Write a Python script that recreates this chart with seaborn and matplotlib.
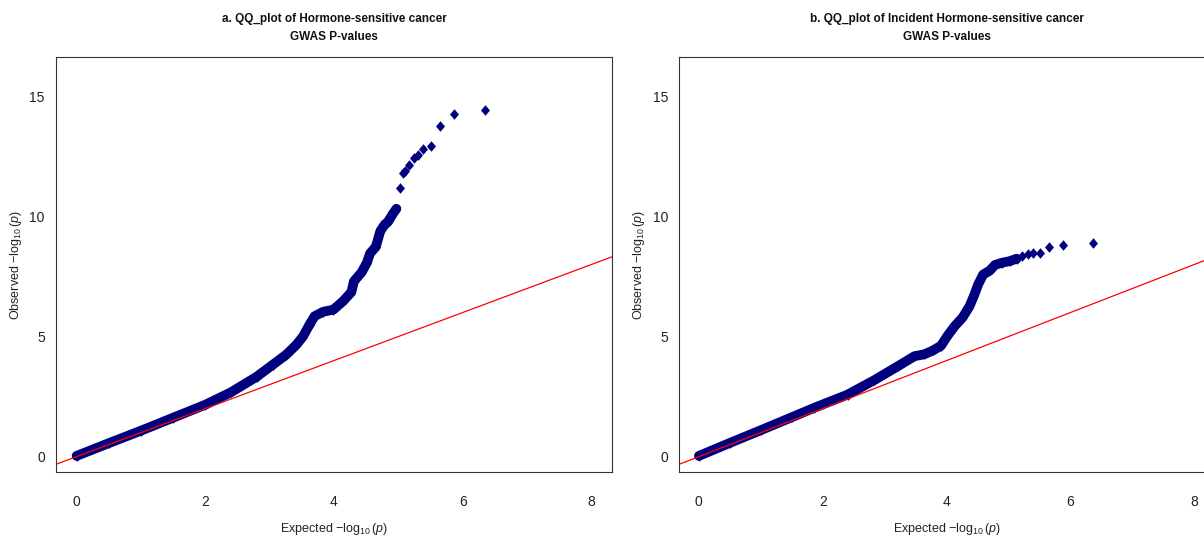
import matplotlib
matplotlib.use("Agg")
import pandas as pd
import matplotlib.pyplot as plt
import seaborn as sns
from matplotlib.path import Path

# QQ values (expected vs observed -log10 p)
left_body_exp = [0.0, 0.5, 1.0, 1.5, 2.0, 2.4, 2.8, 3.05, 3.26, 3.42, 3.52, 3.62, 3.70, 3.83,
                 3.99, 4.14, 4.27, 4.31, 4.43, 4.51, 4.56, 4.65, 4.69, 4.72, 4.79, 4.84, 4.92, 4.97]
left_body_obs = [0.03, 0.56, 1.08, 1.62, 2.16, 2.68, 3.33, 3.83, 4.25, 4.67, 5.01, 5.50, 5.85, 6.03,
                 6.12, 6.47, 6.85, 7.30, 7.68, 8.07, 8.46, 8.74, 9.11, 9.39, 9.67, 9.78, 10.13, 10.32]
left_tail_exp = [5.02, 5.07, 5.11, 5.17, 5.24, 5.30, 5.39, 5.51, 5.65, 5.86, 6.35]
left_tail_obs = [11.18, 11.82, 11.90, 12.15, 12.45, 12.55, 12.80, 12.92, 13.76, 14.28, 14.43]

right_body_exp = [0.0, 0.5, 1.0, 1.5, 1.86, 2.4, 2.83, 3.21, 3.48, 3.64, 3.78, 3.91, 4.02, 4.13,
                  4.26, 4.37, 4.45, 4.51, 4.59, 4.70, 4.78, 4.89, 5.02, 5.13]
right_body_obs = [0.03, 0.57, 1.10, 1.64, 2.03, 2.58, 3.18, 3.76, 4.18, 4.26, 4.42, 4.62, 5.05, 5.43,
                  5.80, 6.26, 6.75, 7.17, 7.58, 7.75, 7.98, 8.07, 8.14, 8.24]
right_tail_exp = [5.21, 5.31, 5.39, 5.51, 5.65, 5.88, 6.36]
right_tail_obs = [8.37, 8.45, 8.46, 8.46, 8.71, 8.82, 8.90]

titles = ["a. QQ_plot of Hormone-sensitive cancer\nGWAS P-values",
          "b. QQ_plot of Incident Hormone-sensitive cancer\nGWAS P-values"]
x_ticks = [0, 2, 4, 6, 8]
y_ticks = [0, 5, 10, 15]

sns.set_style("white")
plt.rcParams['font.family'] = ['Liberation Sans Narrow', 'Liberation Sans', 'DejaVu Sans']
plt.rcParams['mathtext.fontset'] = 'custom'
plt.rcParams['mathtext.rm'] = 'Liberation Sans'
plt.rcParams['mathtext.it'] = 'Liberation Sans:italic'
plt.rcParams['mathtext.default'] = 'regular'

point_col = "#00007f"
diamond = Path([(0, 1), (0.85, 0), (0, -1), (-0.85, 0), (0, 1)],
               [Path.MOVETO, Path.LINETO, Path.LINETO, Path.LINETO, Path.CLOSEPOLY])

fig = plt.figure(figsize=(12.04, 5.39), dpi=100)
ax_a = fig.add_axes([0.0465, 0.1243, 0.4618, 0.770])
ax_b = fig.add_axes([0.564, 0.1243, 0.4444, 0.770])

panels = [
    (ax_a, left_body_exp, left_body_obs, left_tail_exp, left_tail_obs, titles[0]),
    (ax_b, right_body_exp, right_body_obs, right_tail_exp, right_tail_obs, titles[1]),
]

for ax, bx, by, tx, ty, title in panels:
    body = pd.DataFrame({"expected": bx, "observed": by})
    tail = pd.DataFrame({"expected": tx, "observed": ty})
    allpts = pd.concat([body, tail], ignore_index=True)

    # dense part of the QQ cloud drawn as a thick band
    sns.lineplot(data=body, x="expected", y="observed", ax=ax, sort=False,
                 color=point_col, lw=7, solid_capstyle="round", zorder=2)
    sns.scatterplot(data=allpts, x="expected", y="observed", ax=ax, marker=diamond,
                    s=58, color=point_col, edgecolor=point_col, linewidth=0, zorder=2)
    ax.axline((0, 0), slope=1, color="#ff0000", lw=0.9, zorder=3)

    ax.set_xlim(-0.32, 8.32)
    ax.set_ylim(-0.64, 16.64)
    ax.set_xticks(x_ticks)
    ax.set_yticks(y_ticks)
    ax.tick_params(axis="x", direction="out", length=6.5, width=0.8, pad=10,
                   labelsize=10, colors="#222222")
    ax.tick_params(axis="y", direction="out", length=5, width=0.8, pad=3,
                   labelsize=10, colors="#222222")
    for sp in ax.spines.values():
        sp.set_visible(True)
        sp.set_color("#333333")
        sp.set_linewidth(0.8)

    ax.set_xlabel(r"Expected $-\log_{10}(\mathit{p})$", fontsize=9, color="#222222")
    ax.set_ylabel(r"Observed $-\log_{10}(\mathit{p})$", fontsize=9, color="#222222")
    w_px = ax.get_position().width * 1204
    ax.xaxis.set_label_coords(0.5, -49 / 415)
    ax.yaxis.set_label_coords(-32 / w_px, 0.5)
    ax.set_title(title, fontsize=8.5, fontweight="bold", pad=12, linespacing=1.65,
                 color="#111111")

fig.savefig("out.png", dpi=100)
